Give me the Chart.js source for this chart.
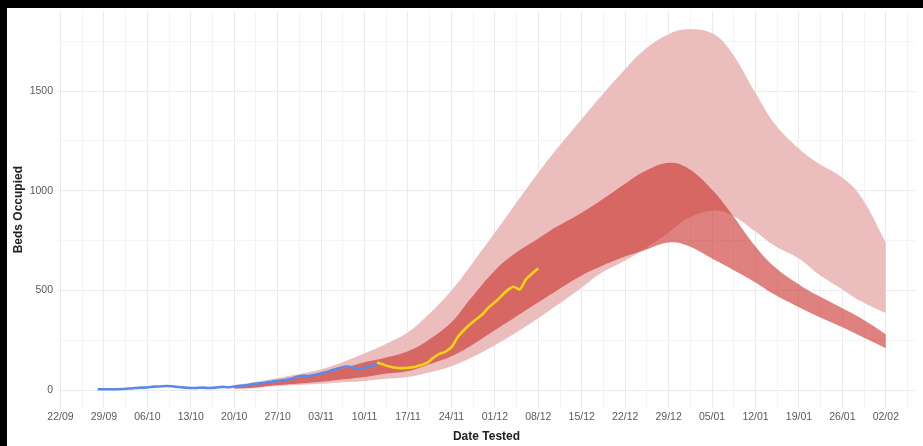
<!DOCTYPE html>
<html>
<head>
<meta charset="utf-8">
<script src="https://cdn.jsdelivr.net/npm/chart.js@4.4.1/dist/chart.umd.min.js"></script>
<style>
  html, body { margin: 0; padding: 0; background: #fff; }
  canvas { display: block; }
</style>
</head>
<body>
<canvas id="chart" width="923" height="446"></canvas>
<script>
// Axis origin: first labelled date
const AXIS_START = '2020-09-22';

// Weekly tick labels along the date axis
const tickLabels = ['22/09', '29/09', '06/10', '13/10', '20/10', '27/10', '03/11', '10/11',
  '17/11', '24/11', '01/12', '08/12', '15/12', '22/12', '29/12', '05/01', '12/01',
  '19/01', '26/01', '02/02'];

// Projection band dates
const bandDates = ['2020-10-20', '2020-10-23', '2020-10-27', '2020-10-30', '2020-11-03',
  '2020-11-06', '2020-11-10', '2020-11-13', '2020-11-17', '2020-11-20', '2020-11-24',
  '2020-11-27', '2020-12-01', '2020-12-04', '2020-12-08', '2020-12-11', '2020-12-15',
  '2020-12-18', '2020-12-22', '2020-12-25', '2020-12-29', '2021-01-01', '2021-01-05',
  '2021-01-08', '2021-01-12', '2021-01-15', '2021-01-19', '2021-01-22', '2021-01-26',
  '2021-01-29', '2021-02-02'];

// Wide projection interval (beds occupied)
const outerLow = [5, 9, 20, 25, 32, 38, 45, 55, 65, 85, 120, 160, 225, 280, 360, 425, 515,
  585, 650, 705, 790, 860, 900, 880, 795, 725, 660, 585, 505, 445, 385];
const outerHigh = [25, 38, 60, 78, 105, 135, 185, 225, 290, 370, 500, 620, 790, 920, 1090,
  1210, 1360, 1470, 1610, 1705, 1785, 1810, 1790, 1700, 1490, 1340, 1210, 1140, 1065, 970, 740];

// Narrow projection interval (beds occupied)
const innerLow = [8, 12, 25, 32, 42, 52, 65, 80, 95, 125, 170, 220, 300, 360, 440, 500, 575,
  620, 670, 700, 740, 725, 660, 610, 540, 480, 415, 370, 315, 270, 210];
const innerHigh = [18, 27, 48, 62, 85, 105, 140, 160, 195, 245, 340, 455, 600, 680, 760, 820,
  890, 950, 1035, 1095, 1140, 1115, 1005, 890, 720, 620, 530, 475, 410, 360, 280];

// Daily beds occupied, earlier period
const observedStart = '2020-09-28';
const observedBeds = [4, 4, 4, 4, 5, 8, 10, 12, 13, 17, 18, 20, 19, 15, 12, 10, 11, 12, 10,
  12, 16, 14, 18, 22, 24, 30, 34, 37, 42, 46, 50, 55, 66, 72, 70, 76, 84, 92, 102, 110, 118,
  114, 106, 112, 120, 135];

// Daily beds occupied, recent period
const recentStart = '2020-11-12';
const recentBeds = [138, 128, 118, 112, 110, 112, 116, 125, 135, 160, 180, 192, 215, 265, 300,
  330, 355, 380, 415, 440, 470, 500, 518, 505, 555, 585, 610];

const DAY = 86400000;
const dayOf = s => Math.round((Date.parse(s) - Date.parse(AXIS_START)) / DAY);
const bandDays = bandDates.map(dayOf);
const toPoints = vals => vals.map((v, i) => ({ x: bandDays[i], y: v }));
const dailyPoints = (start, vals) => vals.map((v, i) => ({ x: dayOf(start) + i, y: v }));

const LIGHT = '#ebbebd';
const DARK = 'rgba(200, 40, 35, 0.58)';
const FONT = 'Liberation Sans, Arial, sans-serif';

const band = (data, fill, color, order) => ({
  data, fill, order,
  backgroundColor: color,
  borderColor: 'rgba(0,0,0,0)',
  borderWidth: 0,
  pointRadius: 0,
  tension: 0.4
});

// Black frame along the top and left edges
const framePlugin = {
  id: 'frame',
  beforeDraw(chart) {
    const c = chart.ctx;
    c.save();
    c.fillStyle = '#ffffff';
    c.fillRect(0, 0, chart.width, chart.height);
    c.fillStyle = '#000000';
    c.fillRect(0, 0, chart.width, 8);
    c.fillRect(0, 0, 7, chart.height);
    c.restore();
  }
};

const xGrid = [];
for (let d = 0; d <= 136.5; d += 3.5) xGrid.push(d);
const yGrid = [];
for (let v = 0; v <= 1750; v += 250) yGrid.push(v);

new Chart(document.getElementById('chart'), {
  type: 'line',
  data: {
    datasets: [
      band(toPoints(outerLow), false, LIGHT, 3),
      band(toPoints(outerHigh), { target: 0 }, LIGHT, 3),
      band(toPoints(innerLow), false, DARK, 2),
      band(toPoints(innerHigh), { target: 2 }, DARK, 2),
      {
        data: dailyPoints(observedStart, observedBeds),
        borderColor: '#5a8ae6', borderWidth: 2.6, pointRadius: 0,
        tension: 0.25, fill: false, order: 1
      },
      {
        data: dailyPoints(recentStart, recentBeds),
        borderColor: '#f5d312', borderWidth: 2.6, pointRadius: 0,
        tension: 0.25, fill: false, order: 0
      }
    ]
  },
  options: {
    responsive: false,
    animation: false,
    devicePixelRatio: 1,
    layout: { padding: { top: 10, right: 8, left: 0, bottom: 0 } },
    plugins: { legend: { display: false }, tooltip: { enabled: false } },
    scales: {
      x: {
        type: 'linear',
        min: -0.4,
        max: 137.7,
        afterBuildTicks: s => { s.ticks = xGrid.map(v => ({ value: v })); },
        afterFit: s => { s.height = 38; },
        border: { display: false },
        grid: {
          drawTicks: false,
          lineWidth: 1,
          color: c => (c.tick && c.tick.value % 7 === 0) ? '#ebebeb' : '#f4f4f4'
        },
        ticks: {
          autoSkip: false, maxRotation: 0, padding: 3,
          color: '#5a5a5a',
          font: { family: FONT, size: 10.5 },
          callback: v => (v % 7 === 0 ? tickLabels[v / 7] : '')
        },
        title: {
          display: true, text: 'Date Tested', color: '#222222',
          font: { family: FONT, size: 12, weight: 'bold' },
          padding: { top: 0, bottom: 2 }
        }
      },
      y: {
        min: -90,
        max: 1900,
        afterBuildTicks: s => { s.ticks = yGrid.map(v => ({ value: v })); },
        afterFit: s => { s.width = 58; },
        border: { display: false },
        grid: {
          drawTicks: false,
          lineWidth: 1,
          color: c => (c.tick && c.tick.value % 500 === 0) ? '#ebebeb' : '#f4f4f4'
        },
        ticks: {
          padding: 5,
          color: '#5a5a5a',
          font: { family: FONT, size: 10.5 },
          callback: v => (v % 500 === 0 ? String(v) : '')
        },
        title: {
          display: true, text: 'Beds Occupied', color: '#222222',
          font: { family: FONT, size: 12, weight: 'bold' },
          padding: { top: 11, bottom: 0 }
        }
      }
    }
  },
  plugins: [framePlugin]
});
</script>
</body>
</html>
